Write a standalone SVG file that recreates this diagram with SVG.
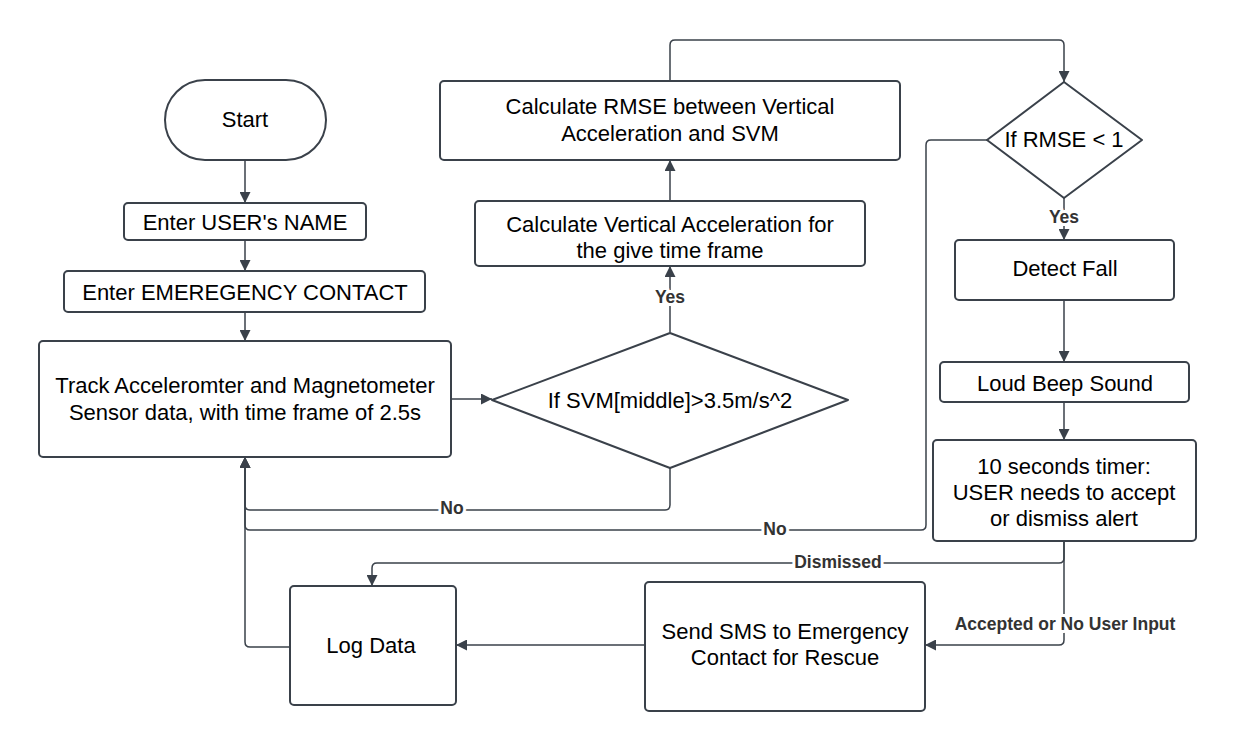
<svg xmlns="http://www.w3.org/2000/svg" width="1238" height="752" viewBox="0 0 1238 752">
<style>
.node{fill:#fff;stroke:#3a414a;stroke-width:2}
.t{font-family:"Liberation Sans",Arial,sans-serif;font-size:22px;fill:#000;text-anchor:middle;dominant-baseline:central}
.c{fill:none;stroke:#3a414a;stroke-width:1.5}
.lbl{font-family:"Liberation Sans",Arial,sans-serif;font-size:17.5px;font-weight:bold;fill:#333;text-anchor:middle;dominant-baseline:central;stroke:#fff;stroke-width:6;paint-order:stroke;stroke-linejoin:round}
</style>
<defs>
<marker id="ah" viewBox="0 0 10 10" refX="10" refY="5" markerWidth="11" markerHeight="11" markerUnits="userSpaceOnUse" orient="auto">
<path d="M0,0 L10,5 L0,10 z" fill="#3a414a"/>
</marker>
</defs>
<rect width="1238" height="752" fill="#fff"/>
<g id="connectors">
<path class="c" d="M245,160 V203" marker-end="url(#ah)"/>
<path class="c" d="M245,240 V271" marker-end="url(#ah)"/>
<path class="c" d="M245,312 V341" marker-end="url(#ah)"/>
<path class="c" d="M451,399 H492" marker-end="url(#ah)"/>
<path class="c" d="M670,332 V266" marker-end="url(#ah)"/>
<path class="c" d="M670,201 V160" marker-end="url(#ah)"/>
<path class="c" d="M670,81 V45 Q670,40 675,40 H1059 Q1064,40 1064,45 V82" marker-end="url(#ah)"/>
<path class="c" d="M670,468 V505 Q670,510 665,510 H250 Q245,510 245,505 V457" marker-end="url(#ah)"/>
<path class="c" d="M987,140 H931 Q926,140 926,145 V525 Q926,530 921,530 H250 Q245,530 245,525 V457" marker-end="url(#ah)"/>
<path class="c" d="M290,647 H250 Q245,647 245,642 V457" marker-end="url(#ah)"/>
<path class="c" d="M1064,198 V240" marker-end="url(#ah)"/>
<path class="c" d="M1064,300 V362" marker-end="url(#ah)"/>
<path class="c" d="M1064,402 V440" marker-end="url(#ah)"/>
<path class="c" d="M1064,541 V558 Q1064,563 1059,563 H377 Q372,563 372,568 V586" marker-end="url(#ah)"/>
<path class="c" d="M1064,541 V640 Q1064,645 1059,645 H925" marker-end="url(#ah)"/>
<path class="c" d="M645,645 H456" marker-end="url(#ah)"/>
<text class="lbl" x="670" y="297">Yes</text>
<text class="lbl" x="452" y="508">No</text>
<text class="lbl" x="775" y="529">No</text>
<text class="lbl" x="1064" y="217">Yes</text>
<text class="lbl" x="838" y="562">Dismissed</text>
<text class="lbl" x="1065" y="624">Accepted or No User Input</text>
</g>
<g id="start">
<rect class="node" x="165" y="80" width="161" height="80" rx="40"/>
<text class="t" x="245" y="119">Start</text>
</g>
<g id="enter-name">
<rect class="node" x="124" y="203" width="242" height="37" rx="4"/>
<text class="t" x="245" y="222">Enter USER's NAME</text>
</g>
<g id="enter-contact">
<rect class="node" x="64" y="271" width="361" height="41" rx="4"/>
<text class="t" x="245" y="292">Enter EMEREGENCY CONTACT</text>
</g>
<g id="track">
<rect class="node" x="39" y="341" width="412" height="116" rx="4"/>
<text class="t" x="245" y="385">Track Acceleromter and Magnetometer</text>
<text class="t" x="245" y="412">Sensor data, with time frame of 2.5s</text>
</g>
<g id="svm-decision">
<path class="node" d="M670,333 L848,400 L670,468 L492,400 Z" stroke-linejoin="round"/>
<text class="t" x="670" y="400">If SVM[middle]&gt;3.5m/s^2</text>
</g>
<g id="calc-vertical">
<rect class="node" x="475" y="201" width="390" height="65" rx="4"/>
<text class="t" x="670" y="224">Calculate Vertical Acceleration for</text>
<text class="t" x="670" y="250">the give time frame</text>
</g>
<g id="calc-rmse">
<rect class="node" x="440" y="81" width="460" height="79" rx="4"/>
<text class="t" x="670" y="106">Calculate RMSE between Vertical</text>
<text class="t" x="670" y="133">Acceleration and SVM</text>
</g>
<g id="rmse-decision">
<path class="node" d="M1064,82 L1142,140 L1064,198 L987,140 Z" stroke-linejoin="round"/>
<text class="t" x="1064" y="139">If RMSE &lt; 1</text>
</g>
<g id="detect-fall">
<rect class="node" x="955" y="240" width="219" height="60" rx="4"/>
<text class="t" x="1065" y="268">Detect Fall</text>
</g>
<g id="beep">
<rect class="node" x="940" y="362" width="249" height="40" rx="4"/>
<text class="t" x="1065" y="383">Loud Beep Sound</text>
</g>
<g id="timer">
<rect class="node" x="933" y="440" width="263" height="101" rx="4"/>
<text class="t" x="1064" y="466">10 seconds timer:</text>
<text class="t" x="1064" y="492">USER needs to accept</text>
<text class="t" x="1064" y="518">or dismiss alert</text>
</g>
<g id="send-sms">
<rect class="node" x="645" y="582" width="280" height="129" rx="4"/>
<text class="t" x="785" y="631">Send SMS to Emergency</text>
<text class="t" x="785" y="657">Contact for Rescue</text>
</g>
<g id="log-data">
<rect class="node" x="290" y="586" width="166" height="119" rx="4"/>
<text class="t" x="371" y="645">Log Data</text>
</g>
</svg>
